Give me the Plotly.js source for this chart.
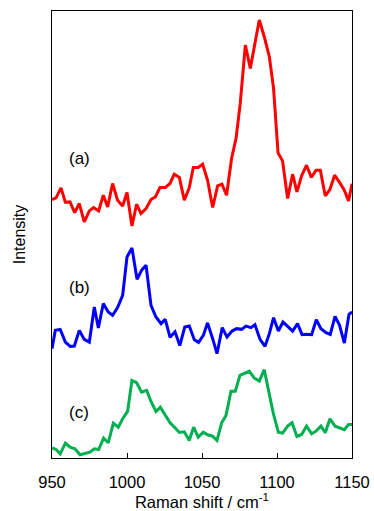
<!DOCTYPE html>
<html>
<head>
<meta charset="utf-8">
<script src="https://cdn.plot.ly/plotly-3.0.1.min.js"></script>
<style>html,body{margin:0;padding:0;background:#fff;}#chart{width:374px;height:511px;}</style>
</head>
<body>
<div id="chart"></div>
<script>
// Spectrum (a)
const xA = [950,952.7,956,958.9,962,965.1,968.2,971.5,974.9,977.7,981.1,984.2,987.1,990.4,993.7,997.1,1000,1003.3,1006.4,1009.3,1012.7,1016,1018.9,1022,1025.5,1028.7,1031.5,1034.9,1038.2,1041.5,1044.2,1047.5,1050.4,1053.7,1057.1,1060.4,1063.3,1066.4,1069.7,1072.7,1075.5,1078.9,1082.2,1085.3,1088.2,1091.5,1094.9,1097.7,1100.7,1103.7,1107.1,1110.4,1113.3,1116.4,1119.7,1122.9,1126,1128.9,1132.2,1135.3,1138.4,1141.5,1144.9,1147.7,1150];
const yA = [258.2,259.8,269.8,255.5,255.8,245.2,254.2,235.8,246.8,250.2,246.8,262.5,250.8,274.2,257.5,251.8,265.2,231.8,253.5,244.2,249.2,258.2,260.8,270.2,270.2,274.2,283.5,280.2,257.5,269.8,290.2,290.2,293.5,277.5,250.2,271.8,273.5,262.5,299.2,319.2,354.2,412.5,389.2,413.5,437.5,420.8,400.8,369.2,304.8,296.8,259.2,283.5,265.8,281.8,292.5,280.2,287.5,287.5,261.8,268.2,282.5,275.8,267.5,256.8,274];
// Spectrum (b)
const xB = [950,952.2,955.5,958.9,962.2,964.9,968.2,971.5,974.9,978.2,980.9,984.2,987.5,990.4,993.7,997.1,1000,1003.3,1006.7,1009.7,1012.7,1016,1019.3,1022.7,1025.5,1028.7,1032,1035.2,1038.5,1041.5,1044.9,1047.7,1050.9,1053.7,1057.1,1060,1063.5,1066.7,1070,1073.1,1076.4,1079.3,1082.7,1085.3,1088.7,1092,1094.9,1097.7,1100.9,1104,1107.1,1110.4,1113.7,1116.7,1119.7,1123.1,1126.2,1129.3,1132.7,1135.5,1138.7,1141.7,1144.9,1148,1150];
const yB = [109.2,127.5,128.5,115.8,111.5,111.8,127.5,118.5,115.8,150.8,129.8,154.2,145.8,142.5,150.2,162.5,200.8,209.8,178.5,187.5,192.5,152.5,140.8,134.2,138.5,120.5,126,112.3,130.8,131.8,118.2,115.5,122.5,135,119.2,104.2,130.2,120.8,126.8,129.2,128.5,131.8,130.2,133.2,118.5,111.5,124.2,140.2,126.8,135.8,131.5,126.8,134.2,123.2,123.5,123.2,138.2,129.2,125.2,123.5,141.5,132.5,114.8,143.5,145.8];
// Spectrum (c)
const xC = [950,952.7,955.5,958.9,962,965.3,968.7,972,975.3,978.2,981.1,984.4,987.5,990.9,994.2,997.1,1000.4,1003.3,1006.4,1009.7,1013.1,1016,1019.3,1022.2,1025.5,1028.7,1032,1034.9,1038.2,1041.5,1044.4,1047.5,1050.9,1053.7,1057.1,1060,1063.1,1066,1069.3,1072.2,1075.3,1078.7,1081.5,1084.9,1088.2,1091.5,1094.9,1097.5,1100.9,1103.7,1107.1,1110,1113.3,1116.4,1119.7,1123.1,1126,1129.3,1132.2,1135.3,1138.7,1141.5,1144.9,1147.7,1150];
const yC = [10.2,8.5,4.2,14.8,10.8,9.2,3.2,4.2,5.8,9.2,8.5,19.8,15.2,34.8,30.8,39.2,46.5,77.5,75.2,65.8,67.5,56.5,46.5,50.8,42.5,35.2,30.2,25.5,26.2,17.5,30.8,20.8,25.8,23.2,21.8,17.5,35.2,42.5,66.8,66.8,82.5,85.2,86.8,79.8,76.8,88.2,64.2,44.8,25.8,24.8,31.8,35.2,21.5,23.5,31.8,24.2,26.8,31.8,25.2,39.2,31.8,30.2,28.2,33.5,33.5];

const seriesLabels = ['(a)','(b)','(c)'];
const xTicks = [950,1000,1050,1100,1150];

const font = 'Liberation Sans, Arial, sans-serif';
const traces = [
  {x:xA, y:yA, mode:'lines', line:{color:'#ff0000', width:3}},
  {x:xB, y:yB, mode:'lines', line:{color:'#0000ff', width:3}},
  {x:xC, y:yC, mode:'lines', line:{color:'#00b050', width:3}}
];
const layout = {
  width:374, height:511,
  margin:{l:52, r:22, t:11, b:53},
  showlegend:false,
  paper_bgcolor:'#fff', plot_bgcolor:'#fff',
  font:{family:font, color:'#000', size:16},
  xaxis:{range:[950,1150], tickvals:xTicks, ticktext:xTicks.map(String),
    ticks:'inside', ticklen:5, tickcolor:'#000', showgrid:false, zeroline:false,
    showline:true, mirror:true, linecolor:'#000', linewidth:1,
    ticklabelstandoff:9,
    tickfont:{size:16.5, family:font},
    title:{text:'Raman shift / cm<sup>-1</sup>', font:{size:16.5, family:font}, standoff:16}},
  yaxis:{range:[0,446.5], showticklabels:false, ticks:'', showgrid:false, zeroline:false,
    showline:true, mirror:true, linecolor:'#000', linewidth:1,
    title:{text:'Intensity', font:{size:16, family:font}, standoff:21}},
  annotations:[
    {x:968.5, y:299.5, text:seriesLabels[0], showarrow:false, font:{size:17, family:font}},
    {x:968.2, y:170.8, text:seriesLabels[1], showarrow:false, font:{size:17, family:font}},
    {x:968.2, y:45.8, text:seriesLabels[2], showarrow:false, font:{size:17, family:font}}
  ]
};
Plotly.newPlot('chart', traces, layout, {displayModeBar:false, staticPlot:true});
</script>
</body>
</html>
